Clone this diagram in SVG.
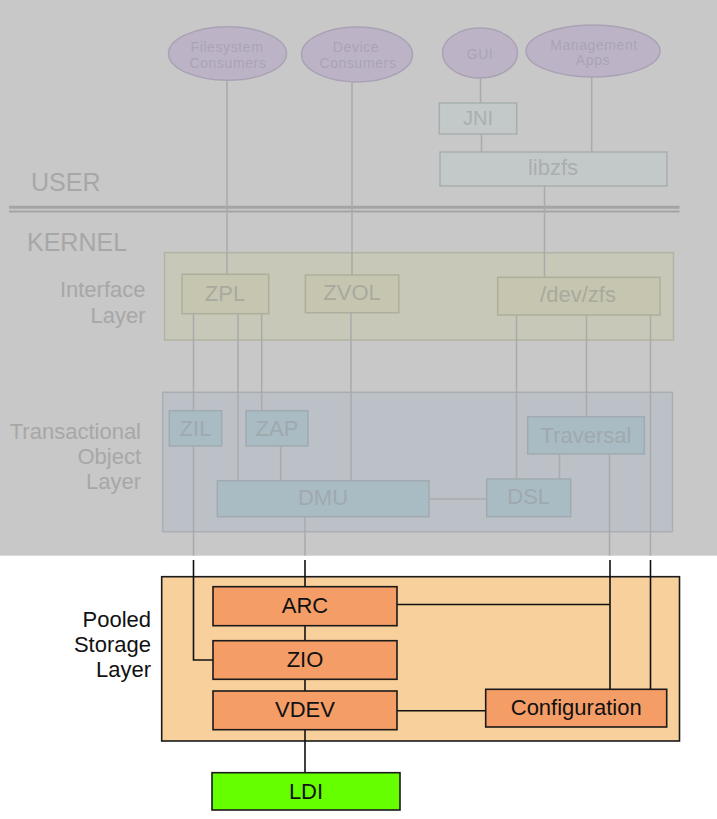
<svg xmlns="http://www.w3.org/2000/svg" width="717" height="819" viewBox="0 0 717 819">
<style>
text{font-family:"Liberation Sans",Arial,sans-serif}
.g{fill:#a7a7a7}
.lbl{font-size:22px}
.mid{text-anchor:middle}
.end{text-anchor:end}
.ell{fill:#bcb4c6;stroke:#aaa2b4;stroke-width:1.5}
.et{fill:#aba3b5;font-size:14px;letter-spacing:0.6px;text-anchor:middle}
.ub{fill:#c3c9c9;stroke:#a8aeae;stroke-width:1.5}
.ut{fill:#a9aeae;text-anchor:middle}
.il{fill:#c8c8b9;stroke:#b3b3a4;stroke-width:1.5}
.ib{fill:#c6c6b0;stroke:#aeae9c;stroke-width:1.5}
.it{fill:#a9a99e;font-size:22px;text-anchor:middle}
.tl{fill:#bcc1c7;stroke:#a9aeb3;stroke-width:1.5}
.tb{fill:#a9bcc4;stroke:#a0aab0;stroke-width:1.5}
.tt{fill:#a0a9ae;font-size:22px;text-anchor:middle}
.gl{stroke:#aaaaaa;stroke-width:1.5;fill:none}
.bl{stroke:#111;stroke-width:1.6;fill:none}
.pl{fill:#f8d09c;stroke:#1a1a1a;stroke-width:1.6}
.ob{fill:#f59d67;stroke:#1a1a1a;stroke-width:1.6}
.lb{fill:#66ff00;stroke:#1a1a1a;stroke-width:1.6}
.bt{fill:#111;font-size:22px;text-anchor:middle}
</style>

<rect id="background" x="0" y="0" width="717" height="819" fill="#ffffff"/>
<rect id="faded-region" x="0" y="0" width="717" height="555.7" fill="#c8c8c8"/>

<!-- layer containers -->
<g id="interface-layer">
  <rect class="il" x="164.5" y="252.7" width="509" height="87.3"/>
  <text class="g lbl end" x="145.5" y="297.3">Interface</text>
  <text class="g lbl end" x="145.5" y="322.7">Layer</text>
</g>
<g id="transactional-object-layer">
  <rect class="tl" x="162.7" y="392.3" width="509.8" height="139.4"/>
  <text class="g lbl end" x="141" y="439">Transactional</text>
  <text class="g lbl end" x="141" y="464">Object</text>
  <text class="g lbl end" x="141" y="488.5">Layer</text>
</g>
<g id="pooled-storage-layer">
  <rect class="pl" x="161.7" y="576.7" width="517.8" height="164.3"/>
  <text class="lbl end" fill="#111" x="151" y="626.7">Pooled</text>
  <text class="lbl end" fill="#111" x="151" y="651.7">Storage</text>
  <text class="lbl end" fill="#111" x="151" y="676.7">Layer</text>
</g>

<g id="user-kernel-divider">
  <text class="g" font-size="25" x="31" y="190.7">USER</text>
  <line x1="9" y1="207.3" x2="679.5" y2="207.3" stroke="#a4a4a4" stroke-width="3"/>
  <line x1="9" y1="211.4" x2="679.5" y2="211.4" stroke="#a4a4a4" stroke-width="2"/>
  <text class="g" font-size="25" x="27" y="250.7">KERNEL</text>
</g>

<!-- connectors -->
<g id="connectors">
  <g id="faded-connectors" class="gl">
    <line x1="227" y1="80.5" x2="227" y2="274.3"/>
    <line x1="352" y1="82" x2="352" y2="275"/>
    <line x1="480.5" y1="78" x2="480.5" y2="103"/>
    <line x1="481.5" y1="134" x2="481.5" y2="152"/>
    <line x1="591.7" y1="77" x2="591.7" y2="152"/>
    <line x1="544.5" y1="186" x2="544.5" y2="277.3"/>
    <line x1="193.5" y1="313.7" x2="193.5" y2="410.7"/>
    <line x1="193.5" y1="446" x2="193.5" y2="555.7"/>
    <line x1="238" y1="313.7" x2="238" y2="480.7"/>
    <line x1="261.7" y1="313.7" x2="261.7" y2="410.7"/>
    <line x1="280.7" y1="446" x2="280.7" y2="480.7"/>
    <line x1="351" y1="312.7" x2="351" y2="480.7"/>
    <line x1="305" y1="516.7" x2="305" y2="555.7"/>
    <line x1="429" y1="499" x2="486.7" y2="499"/>
    <line x1="516.5" y1="315" x2="516.5" y2="479"/>
    <line x1="586.5" y1="315" x2="586.5" y2="416.7"/>
    <line x1="559.5" y1="454" x2="559.5" y2="479"/>
    <line x1="609.5" y1="454" x2="609.5" y2="555.7"/>
    <line x1="650.5" y1="315" x2="650.5" y2="555.7"/>
  </g>
  <g id="active-connectors" class="bl">
    <polyline points="193.5,560 193.5,660 213,660"/>
    <line x1="305" y1="560" x2="305" y2="586.7"/>
    <line x1="305" y1="625.7" x2="305" y2="640.7"/>
    <line x1="305" y1="679.3" x2="305" y2="691"/>
    <line x1="305" y1="729.7" x2="305" y2="772.7"/>
    <line x1="610" y1="560" x2="610" y2="689.3"/>
    <line x1="397" y1="604.5" x2="610" y2="604.5"/>
    <line x1="650.5" y1="560" x2="650.5" y2="689.3"/>
    <line x1="397" y1="710.7" x2="485.7" y2="710.7"/>
  </g>
</g>

<!-- user space nodes -->
<g id="filesystem-consumers">
  <ellipse class="ell" cx="227.5" cy="53.5" rx="59" ry="26.7"/>
  <text class="et" x="227" y="51.7">Filesystem</text>
  <text class="et" x="228" y="67.7">Consumers</text>
</g>
<g id="device-consumers">
  <ellipse class="ell" cx="357" cy="54.5" rx="55.5" ry="27.5"/>
  <text class="et" x="356" y="51.7">Device</text>
  <text class="et" x="358" y="67.7">Consumers</text>
</g>
<g id="gui">
  <ellipse class="ell" cx="480" cy="53" rx="37.5" ry="25"/>
  <text class="et" x="480" y="58.5">GUI</text>
</g>
<g id="management-apps">
  <ellipse class="ell" cx="593" cy="51" rx="67" ry="26"/>
  <text class="et" x="594" y="49.5">Management</text>
  <text class="et" x="593" y="65">Apps</text>
</g>
<g id="jni">
  <rect class="ub" x="439.3" y="103" width="77.4" height="31"/>
  <text class="ut" font-size="20" x="478" y="125">JNI</text>
</g>
<g id="libzfs">
  <rect class="ub" x="440" y="152" width="227" height="34"/>
  <text class="ut" font-size="22" x="553" y="175">libzfs</text>
</g>

<!-- interface layer nodes -->
<g id="zpl">
  <rect class="ib" x="182" y="274.3" width="86.7" height="39.4"/>
  <text class="it" x="225" y="300.7">ZPL</text>
</g>
<g id="zvol">
  <rect class="ib" x="305.4" y="275" width="93.4" height="37.7"/>
  <text class="it" x="352" y="300.3">ZVOL</text>
</g>
<g id="dev-zfs">
  <rect class="ib" x="497.7" y="277.3" width="162.3" height="37.7"/>
  <text class="it" x="578" y="301.7">/dev/zfs</text>
</g>

<!-- transactional object layer nodes -->
<g id="zil">
  <rect class="tb" x="169.3" y="410.7" width="52.4" height="35.3"/>
  <text class="tt" x="195.5" y="436">ZIL</text>
</g>
<g id="zap">
  <rect class="tb" x="246" y="410.7" width="62" height="35.3"/>
  <text class="tt" x="277" y="436">ZAP</text>
</g>
<g id="traversal">
  <rect class="tb" x="527.7" y="416.7" width="116.6" height="37.3"/>
  <text class="tt" x="586" y="442.7">Traversal</text>
</g>
<g id="dmu">
  <rect class="tb" x="217.3" y="480.7" width="211.7" height="36"/>
  <text class="tt" x="323" y="505">DMU</text>
</g>
<g id="dsl">
  <rect class="tb" x="486.7" y="479" width="84" height="37.7"/>
  <text class="tt" x="528.7" y="504.3">DSL</text>
</g>

<!-- pooled storage nodes -->
<g id="arc">
  <rect class="ob" x="213" y="586.7" width="184" height="39"/>
  <text class="bt" x="305" y="612.7">ARC</text>
</g>
<g id="zio">
  <rect class="ob" x="213" y="640.7" width="184" height="38.6"/>
  <text class="bt" x="305" y="666.8">ZIO</text>
</g>
<g id="vdev">
  <rect class="ob" x="213" y="691" width="184" height="38.7"/>
  <text class="bt" x="305" y="717.3">VDEV</text>
</g>
<g id="configuration">
  <rect class="ob" x="485.7" y="689.3" width="181" height="37.7"/>
  <text class="bt" x="576.2" y="715.2">Configuration</text>
</g>
<g id="ldi">
  <rect class="lb" x="212" y="772.7" width="188" height="37.3"/>
  <text class="bt" x="306" y="798.5">LDI</text>
</g>
</svg>
